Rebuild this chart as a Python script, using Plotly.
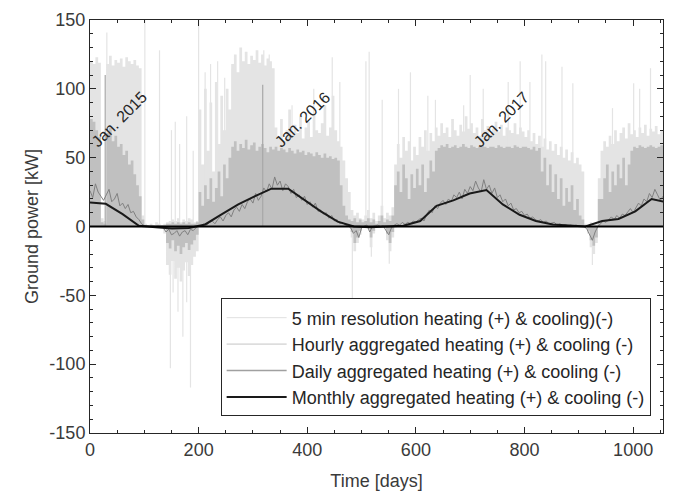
import plotly.graph_objects as go

# ---------------- data ----------------
bin_days = list(range(0, 1060, 5))  # 5-day bins, 0 .. 1055

# 5-min resolution: upper envelope per 5-day bin [kW]
five_min_upper = [
    120, 118, 123, 119, 6, 4, 118, 124, 117, 121,
    119, 122, 116, 123, 120, 118, 121, 117, 115, 8,
    2, 1, 2, 1, 3, 2, 1, 2, 3, 4,
    5, 4, 6, 3, 5, 4, 6, 5, 3, 4,
    85, 45, 100, 55, 90, 40, 105, 60, 95, 70,
    100, 85, 118, 125, 112, 130, 120, 127, 118, 124,
    121, 128, 119, 125, 117, 122, 120, 115, 72, 65,
    78, 62, 70, 85, 66, 74, 68, 80, 64, 72,
    76, 65, 82, 70, 68, 75, 88, 66, 72, 95,
    70, 62, 58, 48, 35, 25, 12, 8, 10, 6,
    5, 8, 12, 6, 10, 4, 8, 15, 6, 10,
    8, 14, 45, 60, 50, 65, 55, 62, 48, 58,
    52, 65, 58, 70, 55, 68, 62, 72, 66, 75,
    68, 72, 65, 78, 70, 66, 74, 69, 80, 71,
    75, 68, 72, 66, 78, 70, 73, 67, 71, 76,
    69, 74, 66, 72, 70, 68, 75, 67, 72, 69,
    65, 70, 62, 68, 60, 66, 58, 64, 56, 62,
    55, 60, 52, 58, 50, 56, 48, 54, 46, 50,
    45, 40, 2, 1, 3, 2, 2, 35, 55, 62,
    58, 66, 60, 70, 62, 68, 72, 64, 75, 67,
    70, 65, 72, 68, 74, 66, 71, 69, 73, 67, 70, 64,
]

# hourly aggregated: upper envelope per 5-day bin [kW]
hourly_upper = [
    78, 76, 70, 65, 3, 2, 68, 72, 62, 66,
    58, 60, 52, 55, 45, 48, 38, 30, 22, 5,
    1, 1, 1, 1, 1, 1, 1, 1, 2, 2,
    3, 2, 3, 2, 3, 2, 3, 2, 2, 3,
    25, 15, 30, 20, 35, 18, 28, 40, 22, 45,
    35, 50, 58, 62, 55, 60, 57, 63, 56, 59,
    61, 55, 58, 60, 57, 54, 58, 56, 58, 55,
    57, 56, 54, 57, 55, 53, 56, 54, 55, 52,
    54, 53, 51, 54, 52, 50, 53, 50, 51, 49,
    50, 48, 30, 15, 8, 5, 4, 6, 3, 5,
    3, 4, 6, 3, 5, 2, 4, 8, 3, 5,
    4, 8, 30, 40, 25, 45, 35, 20, 38, 28,
    42, 30, 45, 25, 35, 48, 40, 55, 57, 59,
    58, 60, 57, 58, 59, 57, 58, 60, 58, 57,
    59, 58, 57, 58, 59, 58, 57, 58, 58, 57,
    59, 58, 57, 58, 58, 57, 59, 58, 57, 58,
    58, 57, 56, 58, 55, 57, 40, 50, 30, 45,
    25, 38, 20, 35, 15, 28, 18, 30, 12, 20,
    8, 5, 0, 0, 0, 0, 0, 20, 20, 35,
    45, 25, 40, 30, 45, 35, 50, 30, 45, 55,
    58, 57, 59, 58, 57, 58, 59, 58, 57, 58, 59, 58,
]

# cooling (negative) envelopes
neg_days = [130, 135, 140, 145, 150, 155, 160, 165, 170, 175, 180, 185, 190, 195, 200, 205,
            475, 480, 485, 490, 495, 500, 510, 515, 520, 525,
            540, 545, 550, 555, 560, 910, 915, 920, 925, 930, 935, 940]
five_min_lower = [0, -5, -28, -35, -25, -38, -30, -40, -32, -26, -36, -28, -22, -18, 0, 0,
                  0, -8, -18, -12, -6, 0, 0, -15, -5, 0,
                  0, -10, -18, -8, 0, 0, -5, -15, -20, -12, 0, 0]
hourly_lower = [0, -2, -12, -16, -10, -18, -14, -20, -15, -12, -17, -13, -10, -6, 0, 0,
                0, -4, -12, -8, -3, 0, 0, -8, -3, 0,
                0, -5, -12, -4, 0, 0, -3, -10, -14, -8, 0, 0]

# isolated 5-min peaks
spike_days = [31, 101, 128, 150, 157, 165, 178, 190, 200, 212, 222, 235, 248, 262, 320, 330,
              372, 412, 446, 460, 508, 514, 538, 568, 590, 622, 636, 688, 700, 724, 770, 792,
              810, 832, 839, 869, 889, 962, 1001, 1012, 1032,
              148, 153, 162, 171, 178, 185, 483, 518, 551, 925]
spike_peaks = [141, 150, 128, 70, 76, 60, 80, 55, 150, 112, 118, 120, 108, 115, 128, 125,
               88, 100, 123, 105, 120, 127, 92, 100, 112, 95, 92, 88, 110, 100, 105, 120,
               105, 125, 120, 116, 104, 86, 104, 100, 115,
               -103, -48, -62, -80, -55, -117, -55, -22, -27, -28]

# isolated hourly peaks
hourly_spike_days = [28, 318]
hourly_spike_peaks = [110, 103]

# daily aggregated (sampled every 5 days)
daily_values = [
    26, 21, 31, 25, 22, 19, 23, 27, 18, 20,
    24, 15, 17, 13, 16, 10, 11, 7, 5, 2,
    0.5, 0.3, 0, 0.5, 0, 0.3, 0, -1, -4, -2,
    -6, -5, -3, -7, -4, -3, -6, -2, -3, -1,
    1, 0.5, 2, 1, 3, 4, 2, 5, 7, 4,
    8, 10, 7, 12, 14, 11, 16, 13, 18, 20,
    17, 24, 19, 22, 28, 25, 31, 27, 36, 30,
    33, 26, 31, 29, 24, 27, 21, 23, 19, 22,
    16, 18, 14, 17, 11, 12, 9, 10, 6, 8,
    4, 5, 2, 3, 1, 0.5, -1, -5, -3, -8,
    -1, 0.5, 1, -4, 0, 0.5, 1, 0, 0.5, -3,
    -6, -1, 1, 2, 1, 3, 1.5, 3, 2, 4,
    3, 5, 6, 4, 9, 12, 10, 15, 13, 17,
    19, 16, 20, 18, 23, 21, 25, 20, 27, 24,
    29, 26, 33, 28, 25, 34, 27, 30, 24, 28,
    21, 23, 18, 20, 15, 17, 12, 13, 10, 11,
    8, 9, 6, 7, 5, 4, 5, 3, 4, 2,
    2.5, 3, 1, 2, 1, 1.5, 0.5, 1, 0.5, 1,
    0.5, 0.5, 0, -2, -6, -10, -4, 0, 2, 4,
    3, 5, 7, 5, 8, 6, 9, 8, 11, 13,
    10, 14, 17, 15, 20, 18, 24, 21, 27, 23, 19, 22,
]

# monthly aggregated
monthly_days = [0, 29, 60, 90, 121, 151, 182, 212, 243, 273, 304, 334, 365, 395, 425, 456,
                486, 516, 547, 577, 608, 638, 669, 699, 730, 760, 791, 821, 852, 882, 912,
                943, 973, 1004, 1034, 1056]
monthly_values = [17.5, 16.5, 9, 0.5, -0.5, -1.5, -1, 1.5, 9, 16, 22, 27.5, 27.5, 19, 11, 3.5,
                  0, -0.5, 0, 0.5, 4, 15, 19, 24, 26.5, 16, 8.5, 4, 1.5, 0.5, 0,
                  4, 5.5, 11, 20, 18]

year_labels = ["Jan. 2015", "Jan. 2016", "Jan. 2017"]
year_label_days = [53, 391, 757]
year_label_y = [78, 78, 78]

x_tick_vals = [0, 200, 400, 600, 800, 1000]
x_tick_text = ["0", "200", "400", "600", "800", "1000"]
y_tick_vals = [-150, -100, -50, 0, 50, 100, 150]
y_tick_text = ["-150", "-100", "-50", "0", "50", "100", "150"]

legend_names = [
    "5 min resolution heating (+) & cooling)(-)",
    "Hourly aggregated heating (+) & cooling (-)",
    "Daily aggregated heating (+) & cooling (-)",
    "Monthly aggregated heating (+) & cooling (-)",
]

# ---------------- styles ----------------
C_5MIN = "#e4e4e4"
C_HOUR = "#c0c0c0"
C_DAY = "#808080"
C_MON = "#1a1a1a"
AX = "#262626"
TXT = "#3a3a3a"
FONT = "Liberation Sans, Arial, Helvetica, sans-serif"

fig = go.Figure()

# 5-min layer
fig.add_trace(go.Scatter(x=bin_days, y=five_min_upper, mode="lines", line=dict(width=0, shape="hv"),
                         fill="tozeroy", fillcolor=C_5MIN, showlegend=False, hoverinfo="skip"))
fig.add_trace(go.Scatter(x=neg_days, y=five_min_lower, mode="lines", line=dict(width=0, shape="hv"),
                         fill="tozeroy", fillcolor=C_5MIN, showlegend=False, hoverinfo="skip"))
sx, sy = [], []
for d, p in zip(spike_days, spike_peaks):
    sx += [d, d, None]
    sy += [0, p, None]
fig.add_trace(go.Scatter(x=sx, y=sy, mode="lines", line=dict(width=1.2, color=C_5MIN),
                         showlegend=False, hoverinfo="skip"))

# hourly layer
fig.add_trace(go.Scatter(x=bin_days, y=hourly_upper, mode="lines", line=dict(width=0, shape="hv"),
                         fill="tozeroy", fillcolor=C_HOUR, showlegend=False, hoverinfo="skip"))
fig.add_trace(go.Scatter(x=neg_days, y=hourly_lower, mode="lines", line=dict(width=0, shape="hv"),
                         fill="tozeroy", fillcolor=C_HOUR, showlegend=False, hoverinfo="skip"))
hx, hy = [], []
for d, p in zip(hourly_spike_days, hourly_spike_peaks):
    hx += [d, d, None]
    hy += [0, p, None]
fig.add_trace(go.Scatter(x=hx, y=hy, mode="lines", line=dict(width=1.2, color="#a8a8a8"),
                         showlegend=False, hoverinfo="skip"))

# daily line
fig.add_trace(go.Scatter(x=bin_days, y=daily_values, mode="lines", line=dict(width=1, color=C_DAY),
                         showlegend=False))

# monthly line
fig.add_trace(go.Scatter(x=monthly_days, y=monthly_values, mode="lines", line=dict(width=2, color=C_MON),
                         showlegend=False))

# legend entries
for name, col, w in zip(legend_names, ["#e0e0e0", "#c4c4c4", "#a0a0a0", C_MON], [1, 1, 1.5, 2]):
    fig.add_trace(go.Scatter(x=[None], y=[None], mode="lines", name=name, line=dict(color=col, width=w)))

for t, d, yv in zip(year_labels, year_label_days, year_label_y):
    fig.add_annotation(x=d, y=yv, text=t, textangle=-45, showarrow=False,
                       font=dict(family=FONT, size=16, color=AX))

fig.add_shape(type="line", xref="paper", x0=0, x1=1, yref="y", y0=0, y1=0,
              line=dict(color="#000000", width=2), layer="above")

axis_common = dict(showline=True, linecolor=AX, linewidth=1, mirror="allticks", ticks="inside",
                   ticklen=6, tickcolor=AX, showgrid=False, zeroline=False,
                   tickfont=dict(family=FONT, size=18, color=TXT))

fig.update_xaxes(range=[0, 1055], tickmode="array", tickvals=x_tick_vals, ticktext=x_tick_text,
                 minor=dict(dtick=50, tick0=0, ticks="inside", ticklen=3, tickcolor=AX),
                 title=dict(text="Time [days]", font=dict(family=FONT, size=18, color=TXT)),
                 **axis_common)
fig.update_yaxes(range=[-150, 150], tickmode="array", tickvals=y_tick_vals, ticktext=y_tick_text,
                 minor=dict(dtick=10, tick0=0, ticks="inside", ticklen=3, tickcolor=AX),
                 title=dict(text="Ground power [kW]", font=dict(family=FONT, size=18, color=TXT),
                            standoff=6),
                 **axis_common)

fig.update_layout(
    width=674, height=498,
    margin=dict(l=90, r=10, t=15, b=65),
    paper_bgcolor="white", plot_bgcolor="white",
    font=dict(family=FONT, size=18, color=AX),
    legend=dict(x=0.228, y=0.04, xanchor="left", yanchor="bottom",
                bgcolor="white", bordercolor=AX, borderwidth=1,
                font=dict(family=FONT, size=18, color=AX), itemwidth=60, tracegroupgap=0),
)

fig.write_html("out.html")
